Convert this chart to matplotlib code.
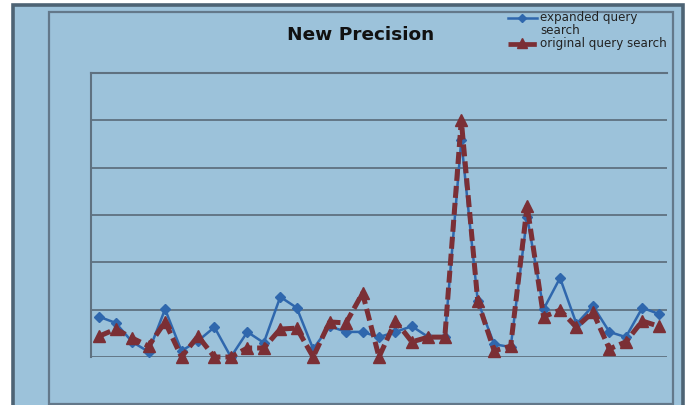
import matplotlib
matplotlib.use("Agg")
import matplotlib.pyplot as plt
from matplotlib.patches import Rectangle
from matplotlib.lines import Line2D
import numpy as np

# ---- data (gridline step = 0.1) ----
queries = list(range(1, 36))
expanded = [0.085, 0.072, 0.032, 0.011, 0.101, 0.013, 0.034, 0.063, 0.000, 0.053,
            0.030, 0.127, 0.104, 0.017, 0.065, 0.053, 0.053, 0.042, 0.053, 0.065,
            0.042, 0.042, 0.458, 0.118, 0.027, 0.021, 0.296, 0.101, 0.167, 0.070,
            0.108, 0.053, 0.042, 0.104, 0.091]
original = [0.044, 0.059, 0.040, 0.023, 0.074, 0.000, 0.044, 0.000, 0.000, 0.019,
            0.019, 0.059, 0.061, 0.000, 0.074, 0.072, 0.135, 0.000, 0.076, 0.032,
            0.042, 0.042, 0.500, 0.118, 0.013, 0.023, 0.319, 0.085, 0.099, 0.063,
            0.095, 0.017, 0.032, 0.076, 0.065]
labels = ["expanded query\nsearch", "original query search"]
title = "New Precision"

W, H = 691, 406
BG = "#9cc2da"
BORDER = "#4d6374"
GRID = "#5f7180"
BLUE = "#2f67ad"
RED = "#7b2f35"

fig = plt.figure(figsize=(W / 100, H / 100), dpi=100)
fig.patch.set_facecolor("white")

def fx(x):
    return x / W

def fy(y):
    return 1 - y / H

# outer chart frame
fig.add_artist(Rectangle((fx(13), fy(420)), fx(683 - 13), (420 - 6) / H,
                         transform=fig.transFigure, facecolor=BG,
                         edgecolor=BORDER, linewidth=2.6, zorder=0))
# inner chart-area rectangle
fig.add_artist(Rectangle((fx(49), fy(405)), fx(673 - 49), (405 - 13) / H,
                         transform=fig.transFigure, facecolor="none",
                         edgecolor="#63788a", linewidth=1.6, zorder=1))

ax = fig.add_axes([fx(91), fy(358), fx(667 - 91), (358 - 74) / H])
ax.set_facecolor("none")
x = np.arange(len(queries))
ax.set_xlim(-0.5, len(queries) - 0.5)
ax.set_ylim(0, 0.6)
ax.set_yticks(np.arange(0, 0.61, 0.1))
ax.yaxis.grid(True, color=GRID, linewidth=1.3)
ax.set_axisbelow(True)
ax.tick_params(left=False, bottom=False, labelleft=False, labelbottom=False)
for s in ["right", "bottom"]:
    ax.spines[s].set_visible(False)
ax.spines["left"].set_color(GRID)
ax.spines["left"].set_linewidth(1.5)
ax.spines["top"].set_color(GRID)
ax.spines["top"].set_linewidth(1.5)

ax.plot(x, expanded, color=BLUE, linewidth=1.8, marker="D", markersize=5.5,
        markerfacecolor=BLUE, markeredgecolor=BLUE, zorder=3, clip_on=False)
ax.plot(x, original, color=RED, linewidth=3.6, linestyle=(0, (2.4, 1.0)),
        marker="^", markersize=8.5, markerfacecolor=RED, markeredgecolor=RED,
        zorder=4, clip_on=False)

fig.text(fx(361), fy(35), title, ha="center", va="center", fontsize=13.3,
         fontweight="bold", family=["DejaVu Sans"], color="#111111")

# legend
fig.add_artist(Line2D([fx(508), fx(537)], [fy(19), fy(19)], transform=fig.transFigure,
                      color=BLUE, linewidth=1.8))
fig.add_artist(Line2D([fx(522)], [fy(19)], transform=fig.transFigure, color=BLUE,
                      marker="D", markersize=4.5, linestyle="none"))
fig.add_artist(Line2D([fx(508), fx(538)], [fy(45), fy(45)], transform=fig.transFigure,
                      color=RED, linewidth=3.4, linestyle=(0, (6.0, 1.2))))
fig.add_artist(Line2D([fx(522)], [fy(44)], transform=fig.transFigure, color=RED,
                      marker="^", markersize=6.5, linestyle="none"))
lf = dict(ha="left", va="center", fontsize=8.6, family=["DejaVu Sans"], color="#222222")
fig.text(fx(540), fy(18), "expanded query", **lf)
fig.text(fx(540), fy(31), "search", **lf)
fig.text(fx(540), fy(44), "original query search", **lf)

fig.savefig("out.png", dpi=100, facecolor=fig.get_facecolor())
